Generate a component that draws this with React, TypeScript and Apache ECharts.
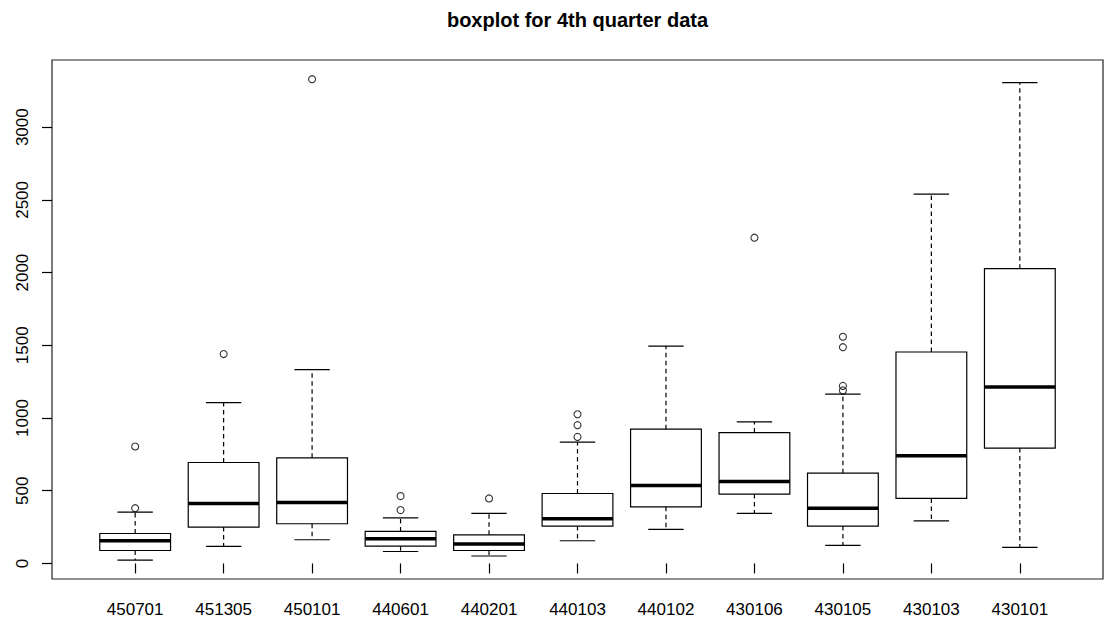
import React, { useEffect, useRef } from "react";
import * as echarts from "echarts";

// Area codes along the x axis
const categories = [
  "450701", "451305", "450101", "440601", "440201", "440103",
  "440102", "430106", "430105", "430103", "430101",
];

// Five-number summaries per area
const lowerWhisker = [23, 117, 163, 82, 51, 156, 234, 344, 124, 293, 110];
const q1 = [89, 250, 273, 119, 89, 257, 389, 477, 257, 447, 793];
const median = [156, 412, 419, 170, 133, 307, 536, 563, 380, 740, 1214];
const q3 = [206, 694, 726, 220, 197, 481, 923, 900, 621, 1454, 2027];
const upperWhisker = [353, 1106, 1333, 314, 344, 834, 1495, 973, 1164, 2540, 3307];

// Points beyond the whiskers
const outlierCategory = [
  "450701", "450701", "451305", "450101", "440601", "440601", "440201",
  "440103", "440103", "440103", "430106", "430105", "430105", "430105", "430105",
];
const outlierValues = [
  380, 804, 1440, 3330, 367, 463, 447, 870, 951, 1026, 2240, 1190, 1221, 1487, 1559,
];

const yTicks = [0, 500, 1000, 1500, 2000, 2500, 3000];
const xTicks = categories.map((_, i) => i + 1);

const FONT = "'Liberation Sans', Arial, Helvetica, sans-serif";

export default function App() {
  const ref = useRef<HTMLDivElement>(null);

  useEffect(() => {
    if (!ref.current) return;
    const chart = echarts.init(ref.current, undefined, { renderer: "svg" });

    const boxData = categories.map((_, i) => [
      i + 1,
      lowerWhisker[i],
      q1[i],
      median[i],
      q3[i],
      upperWhisker[i],
    ]);
    const outlierData = outlierValues.map((v, i) => [
      categories.indexOf(outlierCategory[i]) + 1,
      v,
    ]);

    const renderBox = (params: any, api: any) => {
      const x = api.value(0);
      const pLo = api.coord([x, api.value(1)]);
      const pQ1 = api.coord([x, api.value(2)]);
      const pMed = api.coord([x, api.value(3)]);
      const pQ3 = api.coord([x, api.value(4)]);
      const pHi = api.coord([x, api.value(5)]);
      const cx = pMed[0];
      const bw = api.size([0.8, 0])[0];
      const half = bw / 2;
      const cap = bw / 4;
      const solid = { stroke: "#000", lineWidth: 1.2, fill: "none" };
      const dashed = { stroke: "#000", lineWidth: 1.2, lineDash: [4.5, 3.5] };
      return {
        type: "group",
        children: [
          { type: "line", shape: { x1: cx, y1: pQ3[1], x2: cx, y2: pHi[1] }, style: dashed },
          { type: "line", shape: { x1: cx, y1: pQ1[1], x2: cx, y2: pLo[1] }, style: dashed },
          { type: "line", shape: { x1: cx - cap, y1: pHi[1], x2: cx + cap, y2: pHi[1] }, style: solid },
          { type: "line", shape: { x1: cx - cap, y1: pLo[1], x2: cx + cap, y2: pLo[1] }, style: solid },
          {
            type: "rect",
            shape: { x: cx - half, y: pQ3[1], width: bw, height: pQ1[1] - pQ3[1] },
            style: solid,
          },
          {
            type: "line",
            shape: { x1: cx - half, y1: pMed[1], x2: cx + half, y2: pMed[1] },
            style: { stroke: "#000", lineWidth: 3.5, lineCap: "butt" },
          },
        ],
      };
    };

    chart.setOption({
      animation: false,
      backgroundColor: "#fff",
      grid: {
        left: 52,
        right: 7,
        top: 60,
        bottom: 42,
        show: true,
        borderColor: "#222",
        borderWidth: 1.2,
        containLabel: false,
        outerBoundsMode: "none",
      },
      graphic: [
        {
          type: "text",
          x: 577.5,
          y: 20,
          style: {
            text: "boxplot for 4th quarter data",
            fontFamily: FONT,
            fontSize: 20,
            fontWeight: "bold",
            fill: "#000",
            align: "center",
            verticalAlign: "middle",
            textAlign: "center",
            textVerticalAlign: "middle",
          },
        },
      ],
      xAxis: {
        type: "value",
        min: 0.06,
        max: 11.94,
        splitLine: { show: false },
        axisLine: { show: false },
        axisTick: {
          show: true,
          length: 10,
          customValues: xTicks,
          lineStyle: { color: "#000", width: 1.2 },
        },
        axisLabel: {
          show: true,
          customValues: xTicks,
          formatter: (v: number) => categories[Math.round(v) - 1] ?? "",
          fontFamily: FONT,
          fontSize: 17,
          color: "#000",
          margin: 22,
        },
      },
      yAxis: {
        type: "value",
        min: -107,
        max: 3462,
        splitLine: { show: false },
        axisLine: { show: false },
        axisTick: {
          show: true,
          length: 10,
          customValues: yTicks,
          lineStyle: { color: "#000", width: 1.2 },
        },
        axisLabel: {
          show: true,
          customValues: yTicks,
          formatter: (v: number) => String(v),
          rotate: 90,
          fontFamily: FONT,
          fontSize: 17,
          color: "#000",
          margin: 21,
        },
      },
      series: [
        {
          type: "custom",
          data: boxData,
          encode: { x: 0, y: [1, 2, 3, 4, 5] },
          renderItem: renderBox,
          silent: true,
        },
        {
          type: "scatter",
          data: outlierData,
          symbol: "circle",
          symbolSize: 7,
          itemStyle: { color: "rgba(0,0,0,0)", borderColor: "#000", borderWidth: 1.1 },
          silent: true,
        },
      ],
    });

    return () => chart.dispose();
  }, []);

  return (
    <div
      ref={ref}
      style={{ position: "fixed", left: 0, top: 0, width: 1110, height: 621, background: "#fff" }}
    />
  );
}
